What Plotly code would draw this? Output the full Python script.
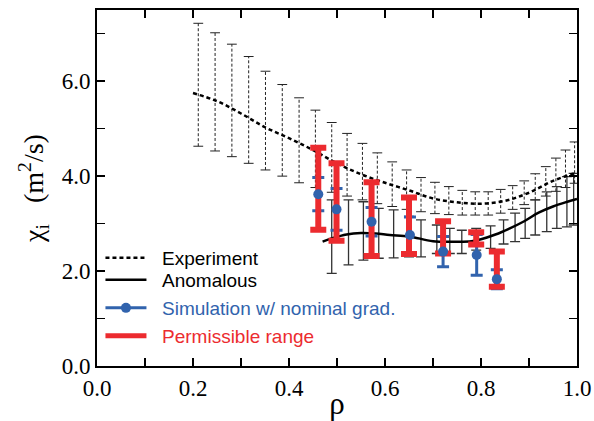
import plotly.graph_objects as go

# ---------------- data ----------------
exp_rho = [0.20, 0.25, 0.30, 0.35, 0.40, 0.45, 0.50, 0.55, 0.60, 0.65, 0.70,
           0.75, 0.80, 0.85, 0.90, 0.95, 1.00]
exp_chi = [5.75, 5.58, 5.32, 5.03, 4.80, 4.55, 4.27, 4.04, 3.86, 3.70, 3.53,
           3.45, 3.42, 3.48, 3.65, 3.90, 4.08]

exp_bar_rho = [0.211, 0.246, 0.281, 0.316, 0.351, 0.386, 0.421, 0.455, 0.489,
               0.521, 0.553, 0.584, 0.615, 0.645, 0.675, 0.704, 0.733, 0.761,
               0.788, 0.815, 0.841, 0.866, 0.890, 0.913, 0.935, 0.956, 0.976, 0.995]
exp_bar_hi = [7.22, 7.02, 6.78, 6.52, 6.21, 5.93, 5.65, 5.39, 5.13, 4.90, 4.69,
              4.49, 4.30, 4.13, 3.97, 3.87, 3.78, 3.70, 3.67, 3.67, 3.72, 3.80,
              3.90, 4.05, 4.20, 4.38, 4.55, 4.72]
exp_bar_lo = [4.63, 4.53, 4.41, 4.27, 4.13, 4.00, 3.86, 3.76, 3.66, 3.58, 3.50,
              3.42, 3.36, 3.30, 3.25, 3.21, 3.19, 3.18, 3.18, 3.18, 3.22, 3.30,
              3.40, 3.50, 3.58, 3.68, 3.76, 3.85]

ano_rho = [0.47, 0.49, 0.52, 0.55, 0.58, 0.61, 0.65, 0.70, 0.75, 0.78, 0.80,
           0.83, 0.86, 0.89, 0.92, 0.95, 0.98, 1.00]
ano_chi = [2.62, 2.69, 2.77, 2.80, 2.79, 2.76, 2.73, 2.63, 2.62, 2.63, 2.67,
           2.77, 2.90, 3.05, 3.23, 3.36, 3.46, 3.52]

ano_bar_rho = [0.489, 0.524, 0.555, 0.587, 0.618, 0.650, 0.675, 0.708, 0.735,
               0.760, 0.790, 0.820, 0.847, 0.871, 0.892, 0.913, 0.937, 0.958,
               0.979, 0.993]
ano_bar_hi = [3.50, 3.50, 3.46, 3.32, 3.29, 3.15, 3.08, 2.97, 2.90, 2.86, 2.90,
              2.95, 3.08, 3.22, 3.32, 3.50, 3.67, 3.78, 3.99, 4.06]
ano_bar_lo = [1.95, 2.13, 2.23, 2.27, 2.28, 2.30, 2.30, 2.37, 2.37, 2.37, 2.44,
              2.48, 2.57, 2.62, 2.69, 2.76, 2.83, 2.90, 2.93, 2.97]

sim_rho = [0.461, 0.499, 0.572, 0.652, 0.721, 0.791, 0.833]
sim_chi = [3.62, 3.30, 3.04, 2.76, 2.41, 2.34, 1.83]
sim_err = [0.35, 0.44, 0.30, 0.38, 0.32, 0.43, 0.20]

perm_rho = [0.461, 0.499, 0.572, 0.650, 0.721, 0.790, 0.833]
perm_hi = [4.60, 4.27, 3.87, 3.55, 3.05, 2.82, 2.41]
perm_lo = [2.87, 2.64, 2.32, 2.36, 2.37, 2.56, 1.67]

x_ticks = [0.0, 0.1, 0.2, 0.3, 0.4, 0.5, 0.6, 0.7, 0.8, 0.9, 1.0]
x_labels = ["0.0", "", "0.2", "", "0.4", "", "0.6", "", "0.8", "", "1.0"]
y_ticks = [0, 1, 2, 3, 4, 5, 6, 7]
y_labels = ["0.0", "", "2.0", "", "4.0", "", "6.0", ""]

BLUE = "#3163ad"
RED = "#ec2b2f"
SERIF = "Liberation Serif"
SANS = "Liberation Sans"
NB = "\u00a0\u00a0"

fig = go.Figure()

# experimental dashed error bars
vx, vy = [], []
for r, h, l in zip(exp_bar_rho, exp_bar_hi, exp_bar_lo):
    vx += [r, r, None]
    vy += [l, h, None]
fig.add_trace(go.Scatter(x=vx, y=vy, mode="lines", showlegend=False,
                         line=dict(color="#222222", width=1, dash="3px,2px"),
                         hoverinfo="skip"))
fig.add_trace(go.Scatter(x=exp_bar_rho + exp_bar_rho, y=exp_bar_hi + exp_bar_lo,
                         mode="markers", showlegend=False, hoverinfo="skip",
                         marker=dict(symbol="line-ew", size=7,
                                     line=dict(color="#222222", width=1))))

# anomalous error bars
ano_mid = [(h + l) / 2 for h, l in zip(ano_bar_hi, ano_bar_lo)]
ano_half = [(h - l) / 2 for h, l in zip(ano_bar_hi, ano_bar_lo)]
fig.add_trace(go.Scatter(x=ano_bar_rho, y=ano_mid, mode="markers", showlegend=False,
                         marker=dict(size=1, color="rgba(0,0,0,0)"),
                         error_y=dict(type="data", array=ano_half, visible=True,
                                      color="#333333", thickness=1.3, width=5),
                         hoverinfo="skip"))

# experiment line
fig.add_trace(go.Scatter(x=exp_rho, y=exp_chi, mode="lines", name=NB + "Experiment",
                         line=dict(color="black", width=2.5, dash="4px,3px", shape="spline"),
                         legend="legend"))
# anomalous line
fig.add_trace(go.Scatter(x=ano_rho, y=ano_chi, mode="lines", name=NB + "Anomalous",
                         line=dict(color="black", width=2.5, shape="spline"),
                         legend="legend2"))

# simulation error bars (under the permissible range)
fig.add_trace(go.Scatter(x=sim_rho, y=sim_chi, mode="markers", showlegend=False,
                         marker=dict(size=1, color="rgba(0,0,0,0)"),
                         error_y=dict(type="data", array=sim_err, visible=True,
                                      color=BLUE, thickness=3, width=6)))

# permissible range
perm_mid = [(h + l) / 2 for h, l in zip(perm_hi, perm_lo)]
perm_half = [(h - l) / 2 for h, l in zip(perm_hi, perm_lo)]
fig.add_trace(go.Scatter(x=perm_rho, y=perm_mid, mode="markers", showlegend=False,
                         marker=dict(size=1, color="rgba(0,0,0,0)"),
                         error_y=dict(type="data", array=perm_half, visible=True,
                                      color=RED, thickness=6, width=8)))

# simulation points on top
fig.add_trace(go.Scatter(x=sim_rho, y=sim_chi, mode="markers", showlegend=False,
                         marker=dict(size=10, color=BLUE)))

# legend entries
fig.add_trace(go.Scatter(x=[None], y=[None], mode="lines+markers",
                         name=NB + '<span style="color:%s">Simulation w/ nominal grad.</span>' % BLUE,
                         line=dict(color=BLUE, width=3), marker=dict(size=10, color=BLUE),
                         legend="legend3"))
fig.add_trace(go.Scatter(x=[None], y=[None], mode="lines",
                         name=NB + '<span style="color:%s">Permissible range</span>' % RED,
                         line=dict(color=RED, width=5), legend="legend4"))

axis_common = dict(showline=True, linecolor="black", linewidth=2, mirror="allticks",
                   ticks="inside", ticklen=8, tickwidth=1.5, tickcolor="black",
                   showgrid=False, zeroline=False, ticklabeloverflow="allow",
                   automargin=False,
                   tickfont=dict(family=SERIF, size=23, color="black"))


def leg(yc):
    return dict(x=0.0072, y=yc, xanchor="left", yanchor="middle",
                bgcolor="rgba(0,0,0,0)", itemwidth=41,
                font=dict(family=SANS, size=19, color="black"))


fig.update_layout(
    width=594, height=421,
    margin=dict(l=97, r=17, t=10, b=55, autoexpand=False),
    paper_bgcolor="white", plot_bgcolor="white",
    xaxis=dict(range=[0, 1], tickmode="array", tickvals=x_ticks, ticktext=x_labels,
               title=dict(text="ρ", font=dict(family=SERIF, size=31, color="black"),
                          standoff=0),
               **axis_common),
    yaxis=dict(range=[0, 7.5], tickmode="array", tickvals=y_ticks, ticktext=y_labels,
               title=dict(text="χ<sub>i</sub>\u00a0\u00a0\u00a0(m<sup>2</sup>/s)",
                          font=dict(family=SERIF, size=28, color="black"), standoff=10),
               **axis_common),
    legend=leg(0.3034),
    legend2=leg(0.2416),
    legend3=leg(0.1629),
    legend4=leg(0.0843),
    showlegend=True,
    hovermode=False,
)

fig.write_html("out.html", config={"displayModeBar": False, "staticPlot": True},
               post_script="document.body.style.margin='0';")
